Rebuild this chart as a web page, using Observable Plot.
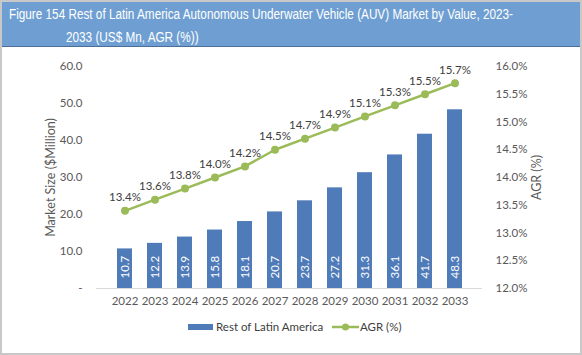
<!DOCTYPE html>
<html>
<head>
<meta charset="utf-8">
<script src="https://cdn.jsdelivr.net/npm/d3@7"></script>
<script src="https://cdn.jsdelivr.net/npm/@observablehq/plot@0.6"></script>
<style>
  body { margin: 0; background: #fff; }
  #wrap { position: relative; width: 582px; height: 355px; overflow: hidden; font-family: Lato, sans-serif; }
  #title { position: absolute; left: 0; top: 0; width: 582px; height: 47px; box-sizing: border-box;
    background: #6f9fd2; border: 1px solid #4d6f94; color: #fff; font-family: "Liberation Sans", Arial, sans-serif;
    font-size: 14px; line-height: 23px; padding: 2px 0 0 8px; white-space: nowrap; }
  #title span { display: inline-block; transform-origin: 0 50%; }
  #chart { position: absolute; left: 0; top: 47px; }
  #legend { position: absolute; top: 319px; left: 0; width: 582px; font-size: 11.5px; color: #404040; }
  .item { position: absolute; top: 0; line-height: 16px; }
  #frame { position: absolute; left: 0; top: 0; width: 582px; height: 355px; box-sizing: border-box; border: 2px solid #c8c8c8; pointer-events: none; }
</style>
</head>
<body>
<div id="wrap">
  <div id="title"><span id="t1">Figure 154 Rest of Latin America Autonomous Underwater Vehicle (AUV) Market by Value, 2023-</span><br><span id="t2" style="margin-left:57px">2033 (US$ Mn, AGR (%))</span></div>
  <div id="chart"></div>
  <div id="legend">
    <div class="item" style="left:188px"><svg width="28" height="16" style="vertical-align:top"><rect x="0" y="5" width="25" height="6" fill="#4f7bb9"/></svg>Rest of Latin America</div>
    <div class="item" style="left:332px"><svg width="28" height="16" style="vertical-align:top"><line x1="0" x2="27" y1="8" y2="8" stroke="#9bbb59" stroke-width="2.5"/><circle cx="13.5" cy="8" r="3.5" fill="#9bbb59"/></svg>AGR (%)</div>
  </div>
  <div id="frame"></div>
</div>
<script>
const years = ["2022","2023","2024","2025","2026","2027","2028","2029","2030","2031","2032","2033"];
const marketSize = [10.7, 12.2, 13.9, 15.8, 18.1, 20.7, 23.7, 27.2, 31.3, 36.1, 41.7, 48.3];
const agr = [13.4, 13.6, 13.8, 14.0, 14.2, 14.5, 14.7, 14.9, 15.1, 15.3, 15.5, 15.7];
const leftTicks = [0, 10, 20, 30, 40, 50, 60];
const rightTicks = [12.0, 12.5, 13.0, 13.5, 14.0, 14.5, 15.0, 15.5, 16.0];

// fit title's first line to the reference width with a horizontal squeeze
const t1 = document.getElementById("t1");
const sx = 504 / t1.getBoundingClientRect().width;
t1.style.transform = `scaleX(${sx})`;
document.getElementById("t2").style.transform = `scaleX(${sx})`;

// map AGR (12%..16%) onto the left scale (0..60)
const toLeft = v => (v - 12) / 4 * 60;
const fromLeft = d => d / 60 * 4 + 12;

const data = years.map((y, i) => ({year: y, size: marketSize[i], agr: agr[i], agrY: toLeft(agr[i])}));

const plot = Plot.plot({
  width: 582,
  height: 265,
  marginLeft: 96,
  marginRight: 100,
  marginTop: 19,
  marginBottom: 24,
  style: {fontFamily: "Lato, sans-serif", fontSize: "11.5px", color: "#595959", background: "transparent"},
  x: {domain: years, padding: 0.5, label: null},
  y: {domain: [0, 60], label: null},
  marks: [
    Plot.barY(data, {x: "year", y: "size", fill: "#4f7bb9"}),
    Plot.ruleY([0], {stroke: "#d9d9d9", strokeWidth: 1}),
    Plot.axisX({tickSize: 0, tickPadding: 8, fill: "#595959", label: null}),
    Plot.axisY({anchor: "left", ticks: leftTicks, tickSize: 0, tickPadding: 14,
      tickFormat: d => d === 0 ? "-" : d.toFixed(1), fill: "#595959",
      label: "Market Size ($Million)", labelAnchor: "center", labelArrow: "none", labelOffset: 50}),
    Plot.axisY({anchor: "right", ticks: rightTicks.map(toLeft), tickSize: 0, tickPadding: 13,
      tickFormat: d => fromLeft(d).toFixed(1) + "%", fill: "#595959",
      label: "AGR (%)", labelAnchor: "center", labelArrow: "none", labelOffset: 58}),
    Plot.text(data, {x: "year", y: 0, text: d => d.size.toFixed(1), rotate: -90, textAnchor: "start",
      dy: -10, fill: "white", fontSize: 11.5}),
    Plot.line(data, {x: "year", y: "agrY", stroke: "#9bbb59", strokeWidth: 2.5}),
    Plot.dot(data, {x: "year", y: "agrY", r: 4, fill: "#9bbb59"}),
    Plot.text(data, {x: "year", y: "agrY", text: d => d.agr.toFixed(1) + "%", dy: -13, fill: "#404040", fontSize: 11.5})
  ]
});
plot.querySelectorAll("[aria-label='y-axis label'] text").forEach(t => t.style.fontSize = "12.5px");
document.getElementById("chart").appendChild(plot);
</script>
</body>
</html>
